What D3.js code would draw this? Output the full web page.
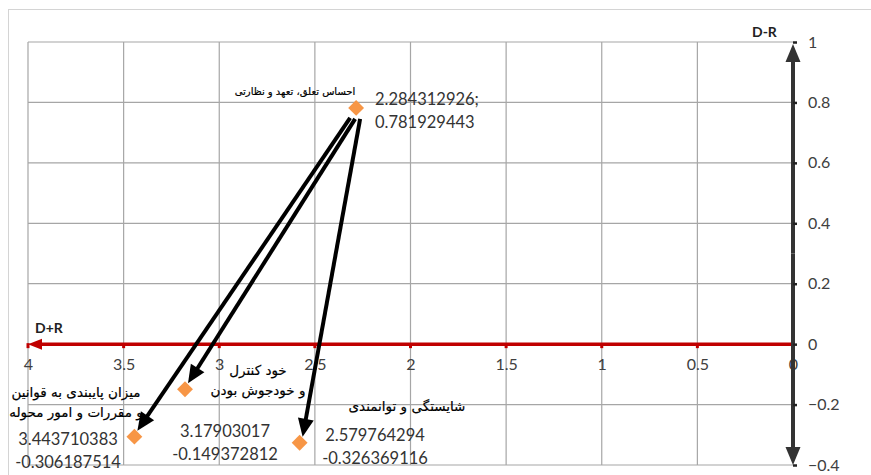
<!DOCTYPE html>
<html><head><meta charset="utf-8">
<script src="https://cdn.jsdelivr.net/npm/d3@7"></script>
<style>body{margin:0;background:#fff}svg{display:block}</style>
</head><body>
<svg id="c" width="871" height="475"></svg>
<script>
const names = ["احساس تعلق، تعهد و نظارتی", "خود کنترل|و خودجوش بودن", "میزان پایبندی به قوانین|و مقررات و امور محوله", "شایستگی و توانمندی"];
const dr = [2.284312926, 3.17903017, 3.443710383, 2.579764294]; // D+R
const dmr = [0.781929443, -0.149372812, -0.306187514, -0.326369116]; // D-R
const valueLabels = ["2.284312926;|0.781929443", "3.17903017|-0.149372812", "3.443710383|-0.306187514", "2.579764294|-0.326369116"];
const xTicks = [4, 3.5, 3, 2.5, 2, 1.5, 1, 0.5, 0];
const yTicks = [1, 0.8, 0.6, 0.4, 0.2, 0, -0.2, -0.4];
const arrowsFrom = 0, arrowsTo = [2, 1, 3];

const svg = d3.select("#c");
const x = d3.scaleLinear().domain([4, 0]).range([28, 793]);
const y = d3.scaleLinear().domain([-0.4, 1]).range([465, 42]);

// outer border
svg.append("rect").attr("x", 8.5).attr("y", 9.5).attr("width", 870).attr("height", 470)
  .attr("fill", "none").attr("stroke", "#d4d4d4");

// arrow helper: line + explicit triangular head
function arrow(x1, y1, x2, y2, color, sw, len, wid) {
  const a = Math.atan2(y2 - y1, x2 - x1);
  const bx = x2 - len * Math.cos(a), by = y2 - len * Math.sin(a);
  svg.append("line").attr("x1", x1).attr("y1", y1).attr("x2", bx + 2 * Math.cos(a)).attr("y2", by + 2 * Math.sin(a))
    .attr("stroke", color).attr("stroke-width", sw);
  const px = -Math.sin(a) * wid / 2, py = Math.cos(a) * wid / 2;
  svg.append("path").attr("d", `M${x2},${y2}L${bx + px},${by + py}L${bx - px},${by - py}Z`).attr("fill", color);
}

// grid
const g = svg.append("g");
g.selectAll(".vg").data(xTicks.filter(d => d !== 0)).join("line")
  .attr("x1", d => x(d)).attr("x2", d => x(d)).attr("y1", y(1)).attr("y2", y(-0.4))
  .attr("stroke", "#a6a6a6").attr("stroke-width", 1.2);
g.selectAll(".hg").data(yTicks).join("line")
  .attr("x1", x(4)).attr("x2", x(0)).attr("y1", d => y(d)).attr("y2", d => y(d))
  .attr("stroke", "#a6a6a6").attr("stroke-width", 1.2);

// x tick labels
const xa = svg.append("g").attr("transform", `translate(0,${y(0)})`)
  .call(d3.axisBottom(x).tickValues(xTicks).tickSize(0).tickPadding(14).tickFormat(d3.format("")));
xa.select(".domain").remove();
xa.selectAll("text").attr("font-family", "Lato, 'Open Sans', sans-serif").attr("font-size", 16).attr("fill", "#404040");

// red axis
arrow(x(0), y(0), x(4), y(0), "#c00000", 3.5, 14, 11);
svg.selectAll(".rt").data(xTicks).join("rect")
  .attr("x", d => x(d) - 1.5).attr("y", y(0) - 1).attr("width", 3).attr("height", 5).attr("fill", "#c00000");

// vertical axis
arrow(x(0), y(0.3), x(0), y(1) + 2, "#333", 4, 18, 15);
arrow(x(0), y(0.3), x(0), y(-0.4), "#333", 4, 18, 15);
const ya = svg.append("g").attr("transform", `translate(${x(0)},0)`)
  .call(d3.axisRight(y).tickValues(yTicks).tickSize(4).tickPadding(11).tickFormat(d3.format("")));
ya.select(".domain").remove();
ya.selectAll("line").attr("stroke", "#222").attr("stroke-width", 2.5);
ya.selectAll("text").attr("font-family", "Lato, 'Open Sans', sans-serif").attr("font-size", 16).attr("fill", "#404040");

// axis titles
svg.append("text").attr("x", 35).attr("y", 333).text("D+R")
  .attr("font-family", "Lato, sans-serif").attr("font-weight", "bold").attr("font-size", 14).attr("fill", "#222");
svg.append("text").attr("x", 752).attr("y", 37).text("D-R")
  .attr("font-family", "Lato, sans-serif").attr("font-weight", "bold").attr("font-size", 14).attr("fill", "#222");

// causal arrows
const p0 = [x(dr[arrowsFrom]), y(dmr[arrowsFrom])];
const starts = [[-6, 10], [-1, 11], [4, 11]];
arrowsTo.forEach((d, i) => {
  arrow(p0[0] + starts[i][0], p0[1] + starts[i][1], x(dr[d]) + 3, y(dmr[d]) - 6, "#000", 4, 18, 16);
});

// points
svg.selectAll(".pt").data(dr).join("path")
  .attr("transform", (d, i) => `translate(${x(d)},${y(dmr[i])})`)
  .attr("d", d3.symbol(d3.symbolDiamond2, 160))
  .attr("fill", "#f79646");

// value labels
const vlPos = [[375, 105], [225, 437], [68, 445], [375, 441]];
const vlAnchor = ["start", "middle", "middle", "middle"];
valueLabels.forEach((s, i) => {
  const t = svg.append("text").attr("font-family", "Lato, 'Open Sans', sans-serif").attr("font-size", 16.5)
    .attr("fill", "#333").attr("text-anchor", vlAnchor[i]);
  s.split("|").forEach((line, j) => t.append("tspan").attr("x", vlPos[i][0]).attr("y", vlPos[i][1] + j * 23).text(line));
});

// name labels
const nmPos = [[295, 95], [258, 375], [76, 397], [407, 411]];
const nmSize = [10, 13.5, 13.5, 13.5];
names.forEach((s, i) => {
  const t = svg.append("text").attr("font-family", "'DejaVu Sans', sans-serif").attr("font-size", nmSize[i])
    .attr("fill", "#000").attr("text-anchor", "middle").attr("direction", "rtl")
    .attr("stroke", "#000").attr("stroke-width", 0.2);
  s.split("|").forEach((line, j) => t.append("tspan").attr("x", nmPos[i][0]).attr("y", nmPos[i][1] + j * 20).text(line));
});
</script>
</body></html>
